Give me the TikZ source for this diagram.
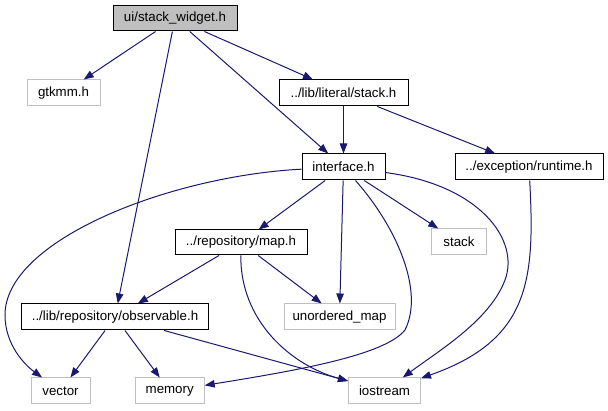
\documentclass[tikz,border=0pt]{standalone}
\usepackage{fontspec}
\setmainfont{Liberation Sans}
\usepackage{tikz}
\usetikzlibrary{arrows.meta}

\definecolor{edgeblue}{HTML}{191970}
\definecolor{boxgray}{HTML}{BFBFBF}

\begin{document}
\begin{tikzpicture}[x=1pt,y=-1pt,
  hfile/.style={draw=black,line width=1pt,inner sep=0pt,minimum height=26pt,
    font=\fontsize{13.3}{16}\selectfont},
  topfile/.style={hfile,fill=boxgray},
  sysfile/.style={hfile,draw=boxgray},
  dep/.style={draw=edgeblue,line width=1pt,-{Triangle[length=10pt,width=7.5pt]}}]
  \useasboundingbox (0,0) rectangle (608,411);

  % 対象のヘッダ
  \node[topfile,minimum width=124pt,minimum height=25pt] (widget) at (175,18.5) {ui/stack\_widget.h};

  % 1段目
  \node[sysfile,minimum width=73pt] (gtkmm) at (63.5,93) {gtkmm.h};
  \node[hfile,minimum width=129pt] (stackh) at (343.5,93) {../lib/literal/stack.h};

  % 2段目
  \node[hfile,minimum width=83pt] (iface) at (343.5,167) {interface.h};
  \node[hfile,minimum width=148pt] (runtime) at (529,167) {../exception/runtime.h};

  % 3段目
  \node[hfile,minimum width=132pt,minimum height=25pt] (map) at (241,242.5) {../repository/map.h};
  \node[sysfile,minimum width=55pt] (stack) at (459,242) {stack};

  % 4段目
  \node[hfile,minimum width=187pt] (observ) at (115,317) {../lib/repository/observable.h};
  \node[sysfile,minimum width=111pt] (umap) at (339.5,317) {unordered\_map};

  % 標準ライブラリ（最下段）
  \node[sysfile,minimum width=59pt] (vector) at (60.5,391) {vector};
  \node[sysfile,minimum width=69pt] (memory) at (169.7,391) {memory};
  \node[sysfile,minimum width=72pt] (iostream) at (384.5,391) {iostream};

  % 直線の依存関係
  \draw[dep] (widget) -- (gtkmm);
  \draw[dep] (widget) -- (observ);
  \draw[dep] (widget) -- (iface);
  \draw[dep] (widget) -- (stackh);
  \draw[dep] (stackh) -- (iface);
  \draw[dep] (stackh) -- (runtime);
  \draw[dep] (iface) -- (map);
  \draw[dep] (iface) -- (umap);
  \draw[dep] (iface) -- (stack);
  \draw[dep] (map) -- (observ);
  \draw[dep] (map) -- (umap);
  \draw[dep] (observ) -- (vector);
  \draw[dep] (observ) -- (memory);
  \draw[dep] (observ) -- (iostream);

  % 曲線の依存関係
  \draw[dep] (iface) .. controls (170,176) and (5,240) .. (5,315)
    .. controls (5,345) and (25,365) .. (vector);
  \draw[dep] (iface) .. controls (395,225) and (425,290) .. (405,330)
    .. controls (385,355) and (300,370) .. (memory);
  \draw[dep] (iface) .. controls (480,185) and (520,240) .. (505,280)
    .. controls (490,320) and (440,350) .. (iostream);
  \draw[dep] (runtime) .. controls (535,280) and (530,340) .. (iostream);
  \draw[dep] (map) .. controls (240,320) and (290,365) .. (iostream);
\end{tikzpicture}
\end{document}
